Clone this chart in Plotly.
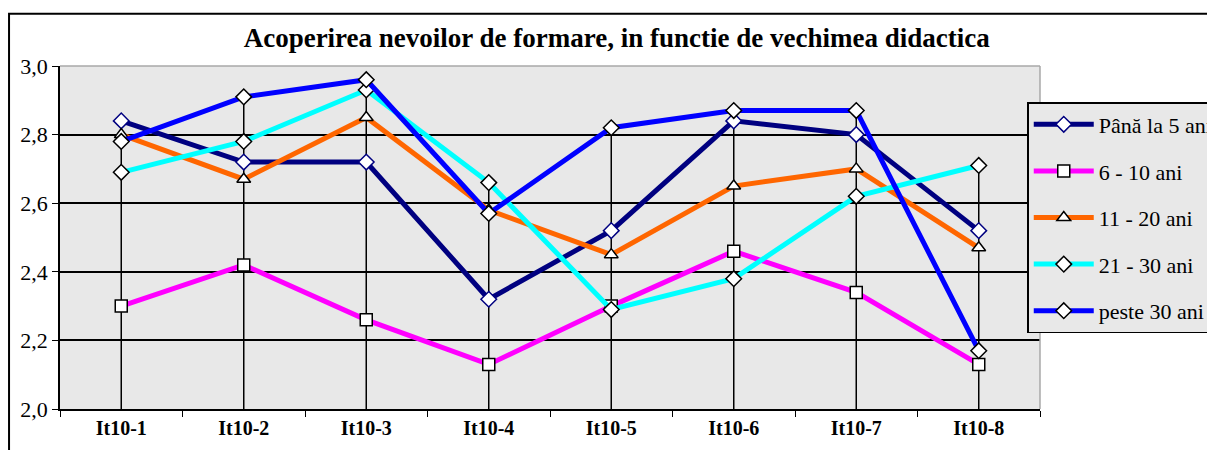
import plotly.graph_objects as go

# data
categories = ["It10-1", "It10-2", "It10-3", "It10-4", "It10-5", "It10-6", "It10-7", "It10-8"]
pana_5 = [2.84, 2.72, 2.72, 2.32, 2.52, 2.84, 2.80, 2.52]
ani_6_10 = [2.30, 2.42, 2.26, 2.13, 2.30, 2.46, 2.34, 2.13]
ani_11_20 = [2.80, 2.67, 2.85, 2.58, 2.45, 2.65, 2.70, 2.47]
ani_21_30 = [2.69, 2.78, 2.93, 2.66, 2.29, 2.38, 2.62, 2.71]
peste_30 = [2.78, 2.91, 2.96, 2.57, 2.82, 2.87, 2.87, 2.17]

series = [
    ("Până la 5 ani", pana_5, "#000080", "diamond", "#000080"),
    ("6 - 10 ani", ani_6_10, "#FF00FF", "square", "black"),
    ("11 - 20 ani", ani_11_20, "#FF6600", "triangle-up", "black"),
    ("21 - 30 ani", ani_21_30, "#00FFFF", "diamond", "black"),
    ("peste 30 ani", peste_30, "#0000FF", "diamond", "black"),
]

FONT = "Liberation Serif"

fig = go.Figure()

# drop lines from the highest point of each category down to the axis
drop_x, drop_y = [], []
for i, c in enumerate(categories):
    top = max(s[1][i] for s in series)
    drop_x += [c, c, None]
    drop_y += [top, 2.0, None]
fig.add_trace(go.Scatter(x=drop_x, y=drop_y, mode="lines",
                         line=dict(color="black", width=1.5),
                         showlegend=False, hoverinfo="skip"))

for k, (name, vals, color, symbol, edge) in enumerate(series):
    fig.add_trace(go.Scatter(
        x=categories, y=vals, name=name, mode="lines+markers",
        legendgroup=str(k),
        line=dict(color=color, width=5),
        marker=dict(symbol=symbol, size=12, color="white",
                    line=dict(color=edge, width=1.5)),
    ))

fig.update_layout(
    width=1215, height=450,
    # page body has an 8px margin, so everything is shifted up/left by 8px
    margin=dict(l=52, r=183, t=58, b=49, autoexpand=False),
    paper_bgcolor="white",
    plot_bgcolor="#E8E8E8",
    separators=",.",
    font=dict(family=FONT, size=20, color="black"),
    title=dict(text="<b>Acoperirea nevoilor de formare, in functie de vechimea didactica</b>",
               x=0.501, xanchor="center", xref="container", y=0.935, yanchor="middle",
               font=dict(family=FONT, size=27, color="black")),
    legend=dict(x=0.987, y=0.895, xanchor="left", yanchor="top",
                bgcolor="#E8E8E8", bordercolor="black", borderwidth=1.5,
                font=dict(family=FONT, size=22), tracegroupgap=15, itemwidth=60),
    xaxis=dict(type="category", range=[-0.5, 7.5], showgrid=False,
               showline=True, linecolor="black", linewidth=1.5,
               ticks="outside", tickson="boundaries", ticklen=6, tickcolor="black",
               tickfont=dict(family=FONT, size=20, color="black"),
               tickprefix="<b>", ticksuffix="</b>"),
    yaxis=dict(range=[2.0, 3.0], dtick=0.2, tickformat=".1f",
               showgrid=True, gridcolor="black", gridwidth=1.5,
               showline=True, linecolor="black", linewidth=1.5,
               ticks="outside", ticklen=6, tickcolor="black", zeroline=False,
               tickfont=dict(family=FONT, size=22, color="black")),
    shapes=[
        # gray top/right border of the plot area
        dict(type="line", xref="paper", yref="paper", x0=0, x1=1, y0=1, y1=1,
             line=dict(color="#A8A8A8", width=1.5)),
        dict(type="line", xref="paper", yref="paper", x0=1, x1=1, y0=0, y1=1,
             line=dict(color="#A8A8A8", width=1.5)),
        # outer chart border
        dict(type="rect", xref="paper", yref="paper", x0=-0.052, x1=1.3, y0=-0.3, y1=1.152,
             line=dict(color="black", width=2), layer="below"),
    ],
)

fig.write_html("out.html")
